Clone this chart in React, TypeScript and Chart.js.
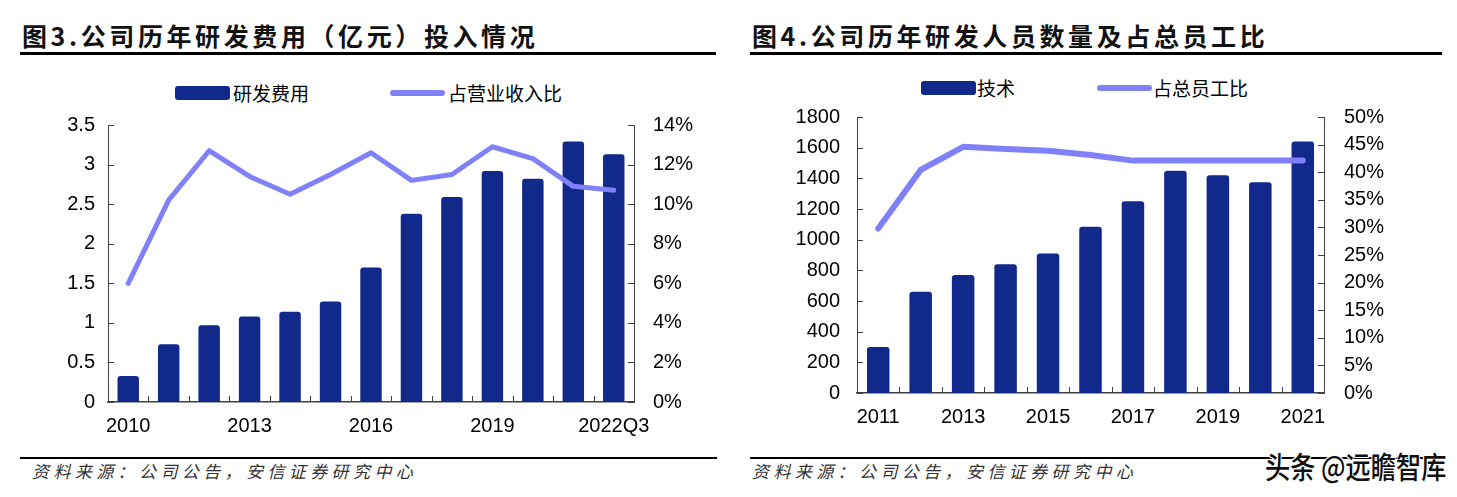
import React, { useEffect, useRef } from 'react';
import { Chart, registerables } from 'chart.js';

Chart.register(...registerables);

// ---------- Data ----------
const rdYears = ['2010', '2011', '2012', '2013', '2014', '2015', '2016', '2017', '2018', '2019', '2020', '2021', '2022Q3'];
const rdExpense = [0.33, 0.73, 0.97, 1.08, 1.14, 1.27, 1.70, 2.38, 2.59, 2.92, 2.82, 3.29, 3.13];
const rdRatio = [6.0, 10.2, 12.7, 11.4, 10.5, 11.5, 12.6, 11.2, 11.5, 12.9, 12.3, 10.9, 10.7];

const staffYears = ['2011', '2012', '2013', '2014', '2015', '2016', '2017', '2018', '2019', '2020', '2021'];
const staffCount = [300, 660, 770, 840, 910, 1085, 1250, 1450, 1420, 1375, 1640];
const staffRatio = [29.8, 40.4, 44.6, 44.2, 43.9, 43.1, 42.1, 42.1, 42.1, 42.1, 42.1];

const titleLeft = '图3.公司历年研发费用（亿元）投入情况';
const titleRight = '图4.公司历年研发人员数量及占总员工比';
const legendLeft = ['研发费用', '占营业收入比'];
const legendRight = ['技术', '占总员工比'];
const sourceText = '资料来源：公司公告，安信证券研究中心';
const watermark = '头条 @远瞻智库';

// ---------- Styles ----------
const BAR = '#10298A';
const LINE = '#8080F8';
const AXIS = '#404040';
const CJK = '"Noto Sans CJK SC", "Noto Sans", sans-serif';
const LATIN = '"Liberation Sans", Arial, sans-serif';

const inwardTicks = {
  id: 'inwardTicks',
  beforeDatasetsDraw(chart: any) {
    const ctx = chart.ctx;
    const x = chart.scales.x;
    const y = chart.scales.y;
    const y2 = chart.scales.y2;
    const n = chart.data.labels.length;
    ctx.save();
    ctx.strokeStyle = AXIS;
    ctx.lineWidth = 1;
    ctx.beginPath();
    for (let i = 1; i < n; i++) {
      const px = Math.round(x.getPixelForValue(i - 0.5)) + 0.5;
      ctx.moveTo(px, x.top);
      ctx.lineTo(px, x.top - 6);
    }
    y.ticks.forEach((t: any) => {
      const py = Math.round(y.getPixelForValue(t.value)) + 0.5;
      ctx.moveTo(y.right, py);
      ctx.lineTo(y.right + 6, py);
    });
    y2.ticks.forEach((t: any) => {
      const py = Math.round(y2.getPixelForValue(t.value)) + 0.5;
      ctx.moveTo(y2.left, py);
      ctx.lineTo(y2.left - 6, py);
    });
    ctx.stroke();
    ctx.restore();
  },
};

type ComboProps = {
  labels: string[];
  bars: number[];
  line: number[];
  barLabel: string;
  lineLabel: string;
  yMax: number;
  yStep: number;
  y2Max: number;
  y2Step: number;
  every: number;
  width: number;
  height: number;
  leftW: number;
  rightW: number;
  bottomH: number;
  topPad: number;
  leftPad: number;
  rightPad: number;
  lineWidth: number;
  style: React.CSSProperties;
};

function ComboChart(p: ComboProps) {
  const ref = useRef<HTMLCanvasElement | null>(null);
  useEffect(() => {
    if (!ref.current) return;
    const chart = new Chart(ref.current, {
      type: 'bar',
      data: {
        labels: p.labels,
        datasets: [
          {
            type: 'line',
            label: p.lineLabel,
            data: p.line,
            yAxisID: 'y2',
            borderColor: LINE,
            backgroundColor: LINE,
            borderWidth: p.lineWidth,
            borderCapStyle: 'round',
            borderJoinStyle: 'round',
            pointRadius: 0,
            tension: 0,
            fill: false,
            order: 0,
          } as any,
          {
            type: 'bar',
            label: p.barLabel,
            data: p.bars,
            yAxisID: 'y',
            backgroundColor: BAR,
            borderRadius: 3,
            categoryPercentage: 1,
            barPercentage: 0.53,
            order: 1,
          } as any,
        ],
      },
      options: {
        responsive: false,
        animation: false,
        devicePixelRatio: 1,
        layout: { padding: { top: p.topPad, left: 0, right: 0, bottom: 0 } },
        plugins: { legend: { display: false }, tooltip: { enabled: false } },
        scales: {
          x: {
            grid: { display: false, drawTicks: false },
            border: { color: AXIS, width: 1.5 },
            ticks: {
              autoSkip: false,
              maxRotation: 0,
              padding: 12,
              color: '#000',
              font: { family: LATIN, size: 20 },
              callback: (_v: any, i: number) => (i % p.every === 0 ? p.labels[i] : ''),
            },
            afterFit: (s: any) => {
              s.height = p.bottomH;
            },
          },
          y: {
            position: 'left',
            min: 0,
            max: p.yMax,
            grid: { display: false, drawTicks: false },
            border: { color: AXIS, width: 1 },
            ticks: {
              stepSize: p.yStep,
              autoSkip: false,
              padding: p.leftPad,
              color: '#000',
              font: { family: LATIN, size: 20 },
              callback: (v: any) => String(Math.round(v * 100) / 100),
            },
            afterFit: (s: any) => {
              s.width = p.leftW;
            },
          },
          y2: {
            position: 'right',
            min: 0,
            max: p.y2Max,
            grid: { display: false, drawTicks: false },
            border: { color: AXIS, width: 1 },
            ticks: {
              stepSize: p.y2Step,
              autoSkip: false,
              padding: p.rightPad,
              color: '#000',
              font: { family: LATIN, size: 20 },
              callback: (v: any) => `${Math.round(v)}%`,
            },
            afterFit: (s: any) => {
              s.width = p.rightW;
            },
          },
        },
      },
      plugins: [inwardTicks],
    } as any);
    return () => chart.destroy();
  }, []);
  return (
    <canvas
      ref={ref}
      width={p.width}
      height={p.height}
      style={{ position: 'absolute', width: p.width, height: p.height, ...p.style }}
    />
  );
}

function Legend({ x1, t1, x2, t2, cy, text }: { x1: number; t1: number; x2: number; t2: number; cy: number; text: string[] }) {
  const txt: React.CSSProperties = {
    position: 'absolute',
    top: cy - 14,
    height: 28,
    lineHeight: '28px',
    fontFamily: CJK,
    fontSize: 19,
    color: '#000',
    whiteSpace: 'nowrap',
  };
  return (
    <>
      <div style={{ position: 'absolute', left: x1, top: cy - 7, width: 55, height: 14, background: BAR, borderRadius: 3 }} />
      <div style={{ ...txt, left: t1 }}>{text[0]}</div>
      <div style={{ position: 'absolute', left: x2, top: cy - 3, width: 55, height: 6, background: LINE, borderRadius: 3 }} />
      <div style={{ ...txt, left: t2 }}>{text[1]}</div>
    </>
  );
}

export default function App() {
  const title: React.CSSProperties = {
    position: 'absolute',
    top: 18,
    fontFamily: CJK,
    fontWeight: 700,
    fontSize: 25,
    lineHeight: '34px',
    letterSpacing: 3.6,
    color: '#111',
    whiteSpace: 'nowrap',
  };
  const src: React.CSSProperties = {
    position: 'absolute',
    top: 460,
    fontFamily: CJK,
    fontStyle: 'italic',
    fontSize: 17,
    lineHeight: '22px',
    letterSpacing: 4.4,
    color: '#333',
    whiteSpace: 'nowrap',
  };
  return (
    <div style={{ position: 'absolute', left: 0, top: 0, width: 1457, height: 497, background: '#fff', overflow: 'hidden' }}>
      <div style={{ ...title, left: 22 }}>{titleLeft}</div>
      <div style={{ ...title, left: 752 }}>{titleRight}</div>
      <div style={{ position: 'absolute', left: 20, top: 52, width: 696, height: 3, background: '#000' }} />
      <div style={{ position: 'absolute', left: 750, top: 52, width: 692, height: 3, background: '#000' }} />

      <Legend x1={175} t1={233} x2={390} t2={448} cy={93} text={legendLeft} />
      <Legend x1={921} t1={977} x2={1097} t2={1153} cy={88} text={legendRight} />

      <ComboChart
        labels={rdYears}
        bars={rdExpense}
        line={rdRatio}
        barLabel={legendLeft[0]}
        lineLabel={legendLeft[1]}
        yMax={3.5}
        yStep={0.5}
        y2Max={14}
        y2Step={2}
        every={3}
        width={730}
        height={346}
        leftW={108}
        rightW={96}
        bottomH={38}
        topPad={14}
        leftPad={13}
        rightPad={19}
        lineWidth={5}
        style={{ left: 0, top: 94 }}
      />
      <ComboChart
        labels={staffYears}
        bars={staffCount}
        line={staffRatio}
        barLabel={legendRight[0]}
        lineLabel={legendRight[1]}
        yMax={1800}
        yStep={200}
        y2Max={50}
        y2Step={5}
        every={2}
        width={727}
        height={355}
        leftW={127}
        rightW={133}
        bottomH={47}
        topPad={16}
        leftPad={17}
        rightPad={20}
        lineWidth={6}
        style={{ left: 730, top: 85 }}
      />

      <div style={{ position: 'absolute', left: 20, top: 457, width: 697, height: 2, background: '#000' }} />
      <div style={{ position: 'absolute', left: 750, top: 457, width: 692, height: 2, background: '#000' }} />
      <div style={{ ...src, left: 32 }}>{sourceText}</div>
      <div style={{ ...src, left: 752 }}>{sourceText}</div>

      <div
        style={{
          position: 'absolute',
          left: 1265,
          top: 445,
          fontFamily: CJK,
          fontSize: 30,
          fontWeight: 500,
          lineHeight: '40px',
          color: '#111',
          whiteSpace: 'nowrap',
          transform: 'scaleX(0.84)',
          transformOrigin: 'left center',
          textShadow: '1px 1px 0 #fff, -1px -1px 0 #fff, 1px -1px 0 #fff, -1px 1px 0 #fff',
        }}
      >
        {watermark}
      </div>
    </div>
  );
}
